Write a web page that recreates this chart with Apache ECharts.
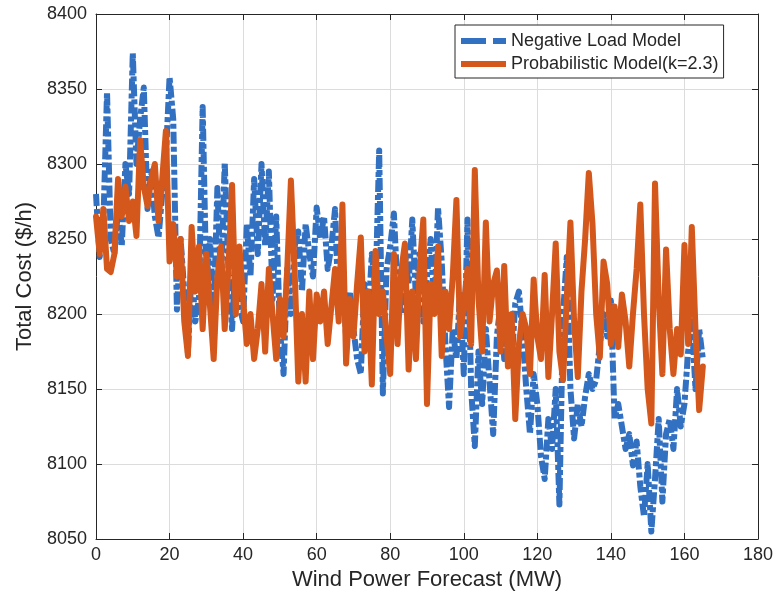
<!DOCTYPE html>
<html>
<head>
<meta charset="utf-8">
<script src="https://cdn.jsdelivr.net/npm/echarts@6/dist/echarts.min.js"></script>
<style>html,body{margin:0;padding:0;background:#fff}#c{width:779px;height:608px}</style>
</head>
<body>
<div id="c"></div>
<script>
var xValues = [];
for (var i = 0; i <= 165; i++) xValues.push(i);

var negativeLoad = [8280,8238,8260,8348,8250,8240,8270,8245,8300,8280,8374,8300,8330,8351,8270,8295,8265,8251,8280,8305,
8358,8330,8203,8250,8215,8174,8230,8195,8210,8338,8220,8250,8200,8284,8220,8301,8230,8190,8240,8205,
8195,8260,8225,8290,8240,8300,8245,8295,8210,8265,8190,8160,8230,8200,8245,8255,8215,8260,8240,8225,
8271,8250,8265,8230,8245,8270,8200,8230,8185,8215,8190,8170,8160,8220,8195,8240,8215,8309,8147,8230,
8245,8267,8215,8200,8240,8220,8263,8210,8240,8195,8225,8250,8205,8271,8235,8180,8138,8190,8170,8215,
8160,8263,8150,8112,8175,8140,8190,8155,8120,8185,8207,8170,8190,8167,8207,8215,8185,8150,8120,8160,
8140,8105,8090,8130,8110,8150,8073,8200,8238,8150,8117,8140,8125,8145,8160,8150,8156,8180,8200,8185,
8209,8130,8140,8125,8110,8120,8099,8115,8085,8065,8100,8055,8090,8130,8075,8120,8130,8110,8150,8125,
8140,8175,8195,8150,8190,8170];

var probabilistic = [8265,8240,8270,8230,8228,8240,8290,8265,8285,8262,8275,8252,8316,8285,8272,8290,8300,8262,8290,8322,
8235,8260,8225,8250,8195,8172,8258,8215,8245,8190,8240,8205,8170,8225,8245,8190,8230,8286,8200,8245,
8210,8180,8200,8170,8190,8220,8175,8230,8200,8170,8210,8185,8230,8289,8230,8155,8200,8155,8215,8170,
8213,8195,8215,8180,8205,8230,8195,8273,8167,8210,8185,8220,8251,8175,8215,8153,8242,8200,8215,8185,
8160,8240,8180,8229,8247,8163,8215,8170,8230,8263,8140,8220,8200,8245,8172,8215,8190,8225,8276,8185,
8205,8230,8180,8296,8210,8175,8261,8195,8220,8229,8175,8232,8165,8200,8130,8180,8200,8190,8160,8223,
8185,8170,8226,8158,8200,8247,8175,8156,8210,8261,8195,8158,8215,8250,8294,8260,8200,8171,8235,8220,
8180,8205,8178,8213,8195,8165,8200,8230,8273,8200,8150,8127,8287,8210,8160,8243,8190,8160,8190,8173,
8246,8180,8258,8190,8136,8165];

var xTicks = [0,20,40,60,80,100,120,140,160,180];
var yTicks = [8050,8100,8150,8200,8250,8300,8350,8400];

function pairs(xs, ys){ return xs.map(function(x,i){ return [x, ys[i]]; }); }

var txt = '#262626';
var font = '"Liberation Sans", Arial, sans-serif';
var blue = '#3270c2', orange = '#d4581c';
var chart = echarts.init(document.getElementById('c'), null, {renderer:'canvas'});
chart.setOption({
  animation: false,
  backgroundColor: '#fff',
  textStyle: {fontFamily: font},
  grid: {left: 96, right: 21, top: 14, bottom: 69, containLabel: false},
  legend: {
    orient: 'vertical', left: 455, top: 25,
    backgroundColor: '#fff', borderColor: '#262626', borderWidth: 1, borderRadius: 0,
    padding: [7, 5, 5, 6], itemGap: 5, itemWidth: 45, itemHeight: 6,
    textStyle: {fontSize: 18, color: txt, fontFamily: font},
    data: [
      {name: 'Negative Load Model', icon: 'path://M0,0H25V6H0Z M32,0H45V6H32Z', itemStyle: {color: blue}},
      {name: 'Probabilistic Model(k=2.3)', icon: 'path://M0,0H45V6H0Z', itemStyle: {color: orange}}
    ]
  },
  xAxis: [{
    type: 'value', min: 0, max: 180, interval: 20,
    name: 'Wind Power Forecast (MW)', nameLocation: 'middle', nameGap: 27,
    nameTextStyle: {fontSize: 22, color: txt, fontFamily: font},
    axisLine: {show: true, onZero: false, lineStyle: {color: txt, width: 1}},
    axisTick: {show: true, inside: true, length: 6, lineStyle: {color: txt}},
    axisLabel: {fontSize: 18, color: txt, margin: 7, fontFamily: font},
    splitLine: {show: true, lineStyle: {color: '#dcdcdc', width: 1}}
  }, {
    type: 'value', min: 0, max: 180, interval: 20, position: 'top',
    axisLine: {show: true, onZero: false, lineStyle: {color: txt, width: 1}},
    axisTick: {show: true, inside: true, length: 6, lineStyle: {color: txt}},
    axisLabel: {show: false}, splitLine: {show: false}
  }],
  yAxis: [{
    type: 'value', min: 8050, max: 8400, interval: 50,
    name: 'Total Cost ($/h)', nameLocation: 'middle', nameGap: 60,
    nameTextStyle: {fontSize: 22, color: txt, fontFamily: font},
    axisLine: {show: true, onZero: false, lineStyle: {color: txt, width: 1}},
    axisTick: {show: true, inside: true, length: 6, lineStyle: {color: txt}},
    axisLabel: {fontSize: 18, color: txt, margin: 9, fontFamily: font,
      formatter: function(v){ return String(v); }},
    splitLine: {show: true, lineStyle: {color: '#dcdcdc', width: 1}}
  }, {
    type: 'value', min: 8050, max: 8400, interval: 50, position: 'right',
    axisLine: {show: true, onZero: false, lineStyle: {color: txt, width: 1}},
    axisTick: {show: true, inside: true, length: 6, lineStyle: {color: txt}},
    axisLabel: {show: false}, splitLine: {show: false}
  }],
  series: [{
    name: 'Negative Load Model', type: 'line', xAxisIndex: 0, yAxisIndex: 0,
    data: pairs(xValues, negativeLoad), showSymbol: false, symbol: 'none',
    lineStyle: {color: blue, width: 6, type: [12, 3, 5, 3], cap: 'butt', join: 'round'},
    itemStyle: {color: blue}, z: 2
  }, {
    name: 'Probabilistic Model(k=2.3)', type: 'line', xAxisIndex: 0, yAxisIndex: 0,
    data: pairs(xValues, probabilistic), showSymbol: false, symbol: 'none',
    lineStyle: {color: orange, width: 6, type: 'solid', cap: 'round', join: 'round'},
    itemStyle: {color: orange}, z: 3
  }]
});
</script>
</body>
</html>
